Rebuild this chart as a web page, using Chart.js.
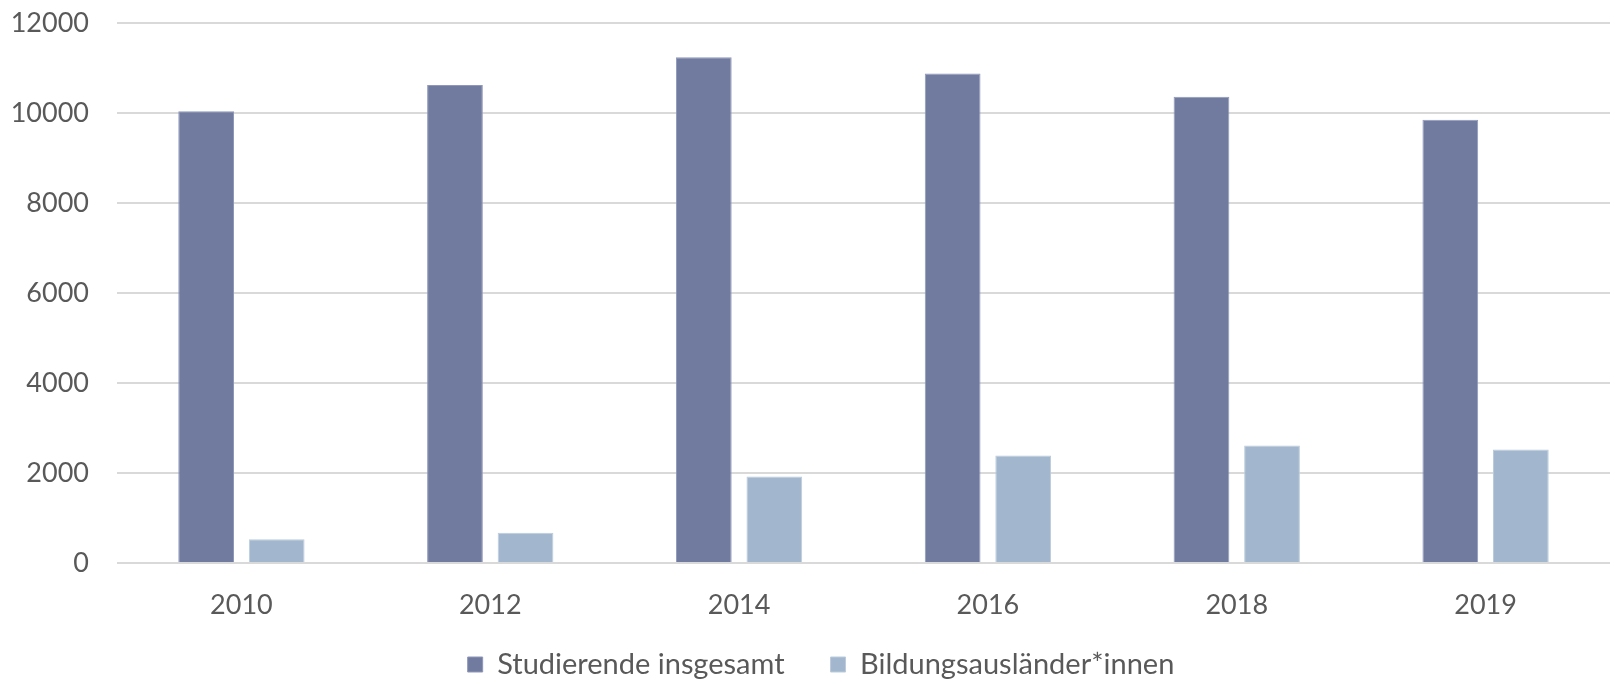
<!DOCTYPE html>
<html>
<head>
<meta charset="utf-8">
<script src="https://cdn.jsdelivr.net/npm/chart.js@4"></script>
<style>
  html, body { margin: 0; padding: 0; background: #fff; }
  #wrap { width: 1615px; height: 682px; }
</style>
</head>
<body>
<div id="wrap"><canvas id="myChart" width="1615" height="682"></canvas></div>
<script>
"use strict";

// years on the x axis
const years = ["2010", "2012", "2014", "2016", "2018", "2019"];
const studierendeInsgesamt = [10040, 10620, 11240, 10880, 10360, 9850];
const bildungsauslaender = [530, 670, 1920, 2390, 2610, 2520];
const seriesNames = ["Studierende insgesamt", "Bildungsausländer*innen"];
const yTicks = [0, 2000, 4000, 6000, 8000, 10000, 12000];

const textColor = "#595959";
const fontFamily = "Lato, 'Open Sans', sans-serif";

// nudge the legend into place (its big item padding makes it too tall)
const legendShift = {
  id: "legendShift",
  afterLayout: function (chart) {
    const lg = chart.legend;
    if (!lg) return;
    lg.left += 16;
    lg.right += 16;
    lg.top -= 17;
    lg.bottom -= 17;
  },
};

const data = {
  labels: years,
  datasets: [
    {
      label: seriesNames[0],
      data: studierendeInsgesamt,
      backgroundColor: "#717b9f",
      borderColor: "#8f98ba",
      borderWidth: 1,
      categoryPercentage: 0.567,
      barPercentage: 0.79,
    },
    {
      label: seriesNames[1],
      data: bildungsauslaender,
      backgroundColor: "#a2b7cd",
      borderColor: "#bccbdc",
      borderWidth: 1,
      categoryPercentage: 0.567,
      barPercentage: 0.79,
    },
  ],
};

const config = {
  type: "bar",
  data: data,
  plugins: [legendShift],
  options: {
    responsive: false,
    animation: false,
    layout: {
      padding: { left: 0, right: 5, top: 23, bottom: -24 },
    },
    plugins: {
      tooltip: { enabled: false },
      legend: {
        position: "bottom",
        labels: {
          color: textColor,
          font: { family: fontFamily, size: 29 },
          boxWidth: 15,
          boxHeight: 15,
          padding: 46,
        },
      },
    },
    scales: {
      x: {
        afterFit: function (scale) {
          scale.height = 58;
        },
        grid: { display: false, drawTicks: false },
        border: { display: false },
        ticks: {
          color: textColor,
          font: { family: fontFamily, size: 27 },
          padding: 26,
        },
      },
      y: {
        min: 0,
        max: 12000,
        afterFit: function (scale) {
          scale.width = 117;
          scale.paddingTop = 0;
          scale.paddingBottom = 0;
        },
        afterBuildTicks: function (scale) {
          scale.ticks = yTicks.map(function (v) {
            return { value: v };
          });
        },
        grid: { color: "#d9d9d9", lineWidth: 2, drawTicks: false },
        border: { display: false },
        ticks: {
          color: textColor,
          font: { family: fontFamily, size: 27 },
          padding: 28,
          callback: function (value) {
            return String(value);
          },
        },
      },
    },
  },
};

const canvasChart = document.getElementById("myChart");
new Chart(canvasChart, config);
</script>
</body>
</html>
